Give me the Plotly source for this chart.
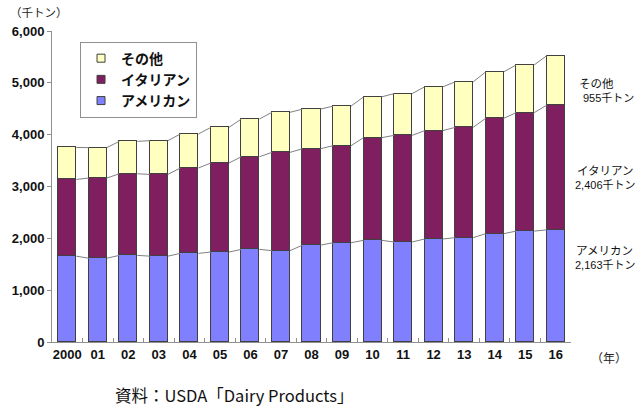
import plotly.graph_objects as go

# Cheese production by type (thousand tonnes)
years = ["2000", "01", "02", "03", "04", "05", "06", "07", "08",
         "09", "10", "11", "12", "13", "14", "15", "16"]
american = [1656, 1617, 1671, 1656, 1710, 1736, 1787, 1762, 1868,
            1916, 1961, 1929, 1987, 2013, 2090, 2140, 2163]
italian = [1480, 1546, 1575, 1577, 1647, 1717, 1788, 1896, 1861,
           1871, 1981, 2057, 2090, 2128, 2225, 2285, 2406]
other = [617, 587, 625, 651, 656, 688, 728, 773, 764,
         764, 787, 806, 845, 877, 896, 920, 955]

names = ["アメリカン", "イタリアン", "その他"]
colors = ["#8080FF", "#7F1F5F", "#FFFFC0"]
series = [american, italian, other]

FONT = "Liberation Sans, Arial, Noto Sans CJK JP, sans-serif"
JP = "Noto Sans CJK JP, sans-serif"
BAR_W = 0.59
xs = list(range(len(years)))

fig = go.Figure()

for name, col, vals in zip(names, colors, series):
    fig.add_trace(go.Bar(
        x=xs, y=vals, name=name, width=BAR_W,
        marker=dict(color=col, line=dict(color="#404040", width=1)),
        showlegend=False,
    ))

# series lines joining the top of each segment between neighbouring bars
cum = [0] * len(years)
for vals in series:
    cum = [c + v for c, v in zip(cum, vals)]
    lx, ly = [], []
    for i in range(len(years) - 1):
        lx += [i + BAR_W / 2, i + 1 - BAR_W / 2, None]
        ly += [cum[i], cum[i + 1], None]
    fig.add_trace(go.Scatter(
        x=lx, y=ly, mode="lines", line=dict(color="#808080", width=1),
        showlegend=False, hoverinfo="skip",
    ))

# legend entries with small square swatches
for name, col in zip(names, colors):
    fig.add_trace(go.Scatter(
        x=[None], y=[None], mode="markers", name=name,
        marker=dict(symbol="square", size=8, color=col,
                    line=dict(color="#404040", width=1)),
    ))

# labels for the latest year: (name, value text, name pos, value pos)
side_labels = [
    ("その他", f"{other[-1]:,}千トン", (1.012, 0.833), (1.020, 0.785)),
    ("イタリアン", f"{italian[-1]:,}千トン", (1.008, 0.553), (1.004, 0.505)),
    ("アメリカン", f"{american[-1]:,}千トン", (1.005, 0.296), (1.004, 0.248)),
]
for nm, val, p1, p2 in side_labels:
    fig.add_annotation(xref="paper", yref="paper", x=p1[0], y=p1[1], text=nm,
                       showarrow=False, xanchor="left", yanchor="middle",
                       font=dict(family=JP, size=11.5, color="#111"))
    fig.add_annotation(xref="paper", yref="paper", x=p2[0], y=p2[1], text=val,
                       showarrow=False, xanchor="left", yanchor="middle",
                       font=dict(family=FONT, size=11, color="#111"))

fig.add_annotation(xref="paper", yref="paper", x=-0.085, y=1.06, text="（千トン）",
                   showarrow=False, xanchor="left", yanchor="middle",
                   font=dict(family=JP, size=11.5, color="#222"))
fig.add_annotation(xref="paper", yref="paper", x=1.035, y=-0.05, text="（年）",
                   showarrow=False, xanchor="left", yanchor="middle",
                   font=dict(family=JP, size=12, color="#222"))
fig.add_annotation(xref="paper", yref="paper", x=0.118, y=-0.172,
                   text="資料：USDA「Dairy Products」",
                   showarrow=False, xanchor="left", yanchor="middle",
                   font=dict(family=JP, size=16.5, color="#111"))

fig.update_layout(
    width=638, height=407,
    margin=dict(l=52, r=67, t=31, b=65),
    paper_bgcolor="white", plot_bgcolor="white",
    barmode="stack", bargap=0,
    font=dict(family=FONT, color="#111"),
    legend=dict(
        x=0.054, y=0.966, xanchor="left", yanchor="top",
        traceorder="reversed", bgcolor="white",
        bordercolor="#909090", borderwidth=1,
        font=dict(family=JP, size=14, color="#111", weight="bold"),
    ),
    xaxis=dict(
        range=[-0.5, len(years) - 0.5],
        tickmode="array", tickvals=xs, ticktext=years,
        ticks="", showgrid=False, zeroline=False,
        showline=True, linecolor="#909090", linewidth=1,
        tickfont=dict(family=FONT, size=13, weight="bold", color="#111"),
        minor=dict(tickmode="array", tickvals=[i + 0.5 for i in xs[:-1]],
                   ticks="inside", ticklen=4, tickcolor="#909090", showgrid=False),
    ),
    yaxis=dict(
        range=[0, 6000], tickmode="linear", tick0=0, dtick=1000,
        tickformat=",", showgrid=False, zeroline=False,
        showline=True, linecolor="#909090", linewidth=1,
        ticks="outside", ticklen=4, tickcolor="#909090",
        tickfont=dict(family=FONT, size=13, weight="bold", color="#111"),
    ),
)

fig.write_html("out.html")
